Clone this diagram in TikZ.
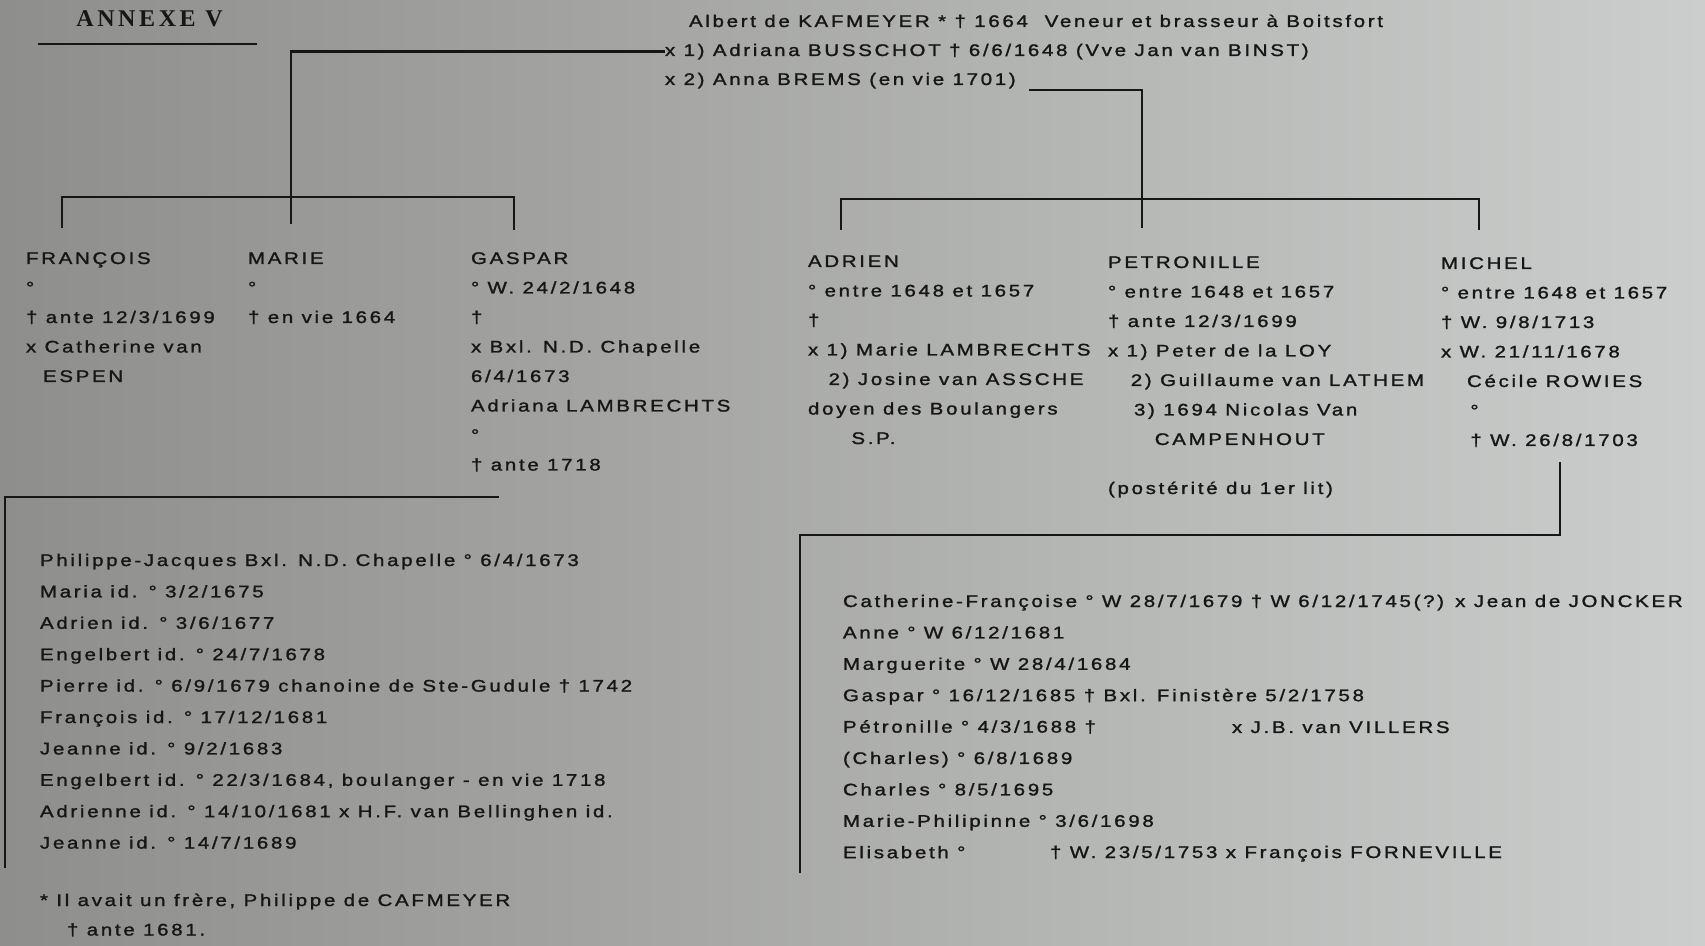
\documentclass[tikz,border=0pt]{standalone}
\usepackage{fontspec}
\setmainfont{Liberation Sans}[FakeStretch=1.22,LetterSpace=16,FakeBold=1.4]
\newfontfamily\annexfont{Liberation Serif}[LetterSpace=15]
\definecolor{ink}{RGB}{22,22,22}
\definecolor{bgleft}{RGB}{142,142,140}
\definecolor{bgright}{RGB}{203,206,204}
\begin{document}
\begin{tikzpicture}[x=0.5pt,y=-0.5pt,
  txt/.style={anchor=base west,inner sep=0pt,outer sep=0pt,text=ink,align=left,
    font=\fontsize{8.4}{14.75}\selectfont},
  lst/.style={txt,font=\fontsize{8.4}{15.7}\selectfont},
  ln/.style={draw=ink,line width=1.4pt}]
\useasboundingbox (0,0) rectangle (1705,946);
\fill[left color=bgleft,right color=bgright] (0,0) rectangle (1705,946);

% heading
\node[anchor=base west,inner sep=0pt,text=ink,font=\annexfont\bfseries\fontsize{12}{14}\selectfont] (annexe) at (76,27) {ANNEXE V};
\coordinate (ulA) at (38,44);
\coordinate (ulB) at (257,44);
\draw[ln] (ulA) -- (ulB);

% parents
\node[txt] (albert) at (689,27) {Albert de KAFMEYER * † 1664 \ Veneur et brasseur à Boitsfort};
\node[txt] (adriana) at (665,56) {x 1) Adriana BUSSCHOT † 6/6/1648 (Vve Jan van BINST)};
\node[txt] (anna) at (665,85) {x 2) Anna BREMS (en vie 1701)};

% first marriage
\coordinate (ljoin) at (291,197);
\coordinate (fdrop) at (62,228);
\coordinate (mdrop) at (291,224);
\coordinate (gdrop) at (514,230);
\draw[ln] (adriana.west) -| (ljoin);
\draw[ln] (fdrop) -- (fdrop |- ljoin) -- (gdrop |- ljoin) -- (gdrop);
\draw[ln] (ljoin) -- (mdrop);

% (multi-line nodes: base = baseline of last line)
\node[txt] (francois) at (26,382) {FRANÇOIS\\°\\† ante 12/3/1699\\x Catherine van\\\hspace*{8.5pt}ESPEN};
\node[txt] (marie) at (248,323) {MARIE\\°\\† en vie 1664};
\node[txt] (gaspar) at (471,470.5) {GASPAR\\° W. 24/2/1648\\†\\x Bxl. N.D. Chapelle\\6/4/1673\\Adriana LAMBRECHTS\\°\\† ante 1718};

% second marriage
\coordinate (annaend) at (1029,90);
\coordinate (rjoin) at (1142,199);
\coordinate (pdrop) at (1142,228);
\coordinate (adrop) at (841,230);
\coordinate (midrop) at (1479,230);
\draw[ln] (annaend) -| (pdrop);
\draw[ln] (adrop) -- (adrop |- rjoin) -- (midrop |- rjoin) -- (midrop);

\node[txt] (adrien) at (808,444) {ADRIEN\\° entre 1648 et 1657\\†\\x 1) Marie LAMBRECHTS\\\hspace*{10.3pt}2) Josine van ASSCHE\\doyen des Boulangers\\\hspace*{21.7pt}S.P.};
\node[txt] (petronille) at (1108,445) {PETRONILLE\\° entre 1648 et 1657\\† ante 12/3/1699\\x 1) Peter de la LOY\\\hspace*{11.4pt}2) Guillaume van LATHEM\\\hspace*{13pt}3) 1694 Nicolas Van\\\hspace*{23.4pt}CAMPENHOUT};
\node[txt] (posterite) at (1108,494) {(postérité du 1er lit)};
\node[txt] (michel) at (1441,446) {MICHEL\\° entre 1648 et 1657\\† W. 9/8/1713\\x W. 21/11/1678\\\hspace*{13pt}Cécile ROWIES\\\hspace*{14.7pt}°\\\hspace*{14.7pt}† W. 26/8/1703};

% children of Gaspar
\coordinate (lboxA) at (499,497);
\coordinate (lboxB) at (5,497);
\coordinate (lboxC) at (5,868);
\draw[ln] (lboxA) -- (lboxB) -- (lboxC);
\node[lst] (llist) at (40,848.6) {Philippe-Jacques Bxl. N.D. Chapelle ° 6/4/1673\\Maria id. ° 3/2/1675\\Adrien id. ° 3/6/1677\\Engelbert id. ° 24/7/1678\\Pierre id. ° 6/9/1679 chanoine de Ste-Gudule † 1742\\François id. ° 17/12/1681\\Jeanne id. ° 9/2/1683\\Engelbert id. ° 22/3/1684, boulanger - en vie 1718\\Adrienne id. ° 14/10/1681 x H.F. van Bellinghen id.\\Jeanne id. ° 14/7/1689};
\node[txt] (note) at (40,935.5) {* Il avait un frère, Philippe de CAFMEYER\\\hspace*{13.5pt}† ante 1681.};

% children of Michel
\coordinate (mtop) at (1560,462);
\coordinate (rcorner) at (800,535);
\coordinate (rbottom) at (800,873);
\draw[ln] (mtop) |- (rcorner) -- (rbottom);
\node[lst] (rlist) at (843,858.2) {Catherine-Françoise ° W 28/7/1679 † W 6/12/1745(?) x Jean de JONCKER\\Anne ° W 6/12/1681\\Marguerite ° W 28/4/1684\\Gaspar ° 16/12/1685 † Bxl. Finistère 5/2/1758\\Pétronille ° 4/3/1688 †\\(Charles) ° 6/8/1689\\Charles ° 8/5/1695\\Marie-Philipinne ° 3/6/1698\\Elisabeth °};
\node[txt] (villers) at (1232,733) {x J.B. van VILLERS};
\node[txt] (forneville) at (1050,858) {† W. 23/5/1753 x François FORNEVILLE};
\end{tikzpicture}
\end{document}
